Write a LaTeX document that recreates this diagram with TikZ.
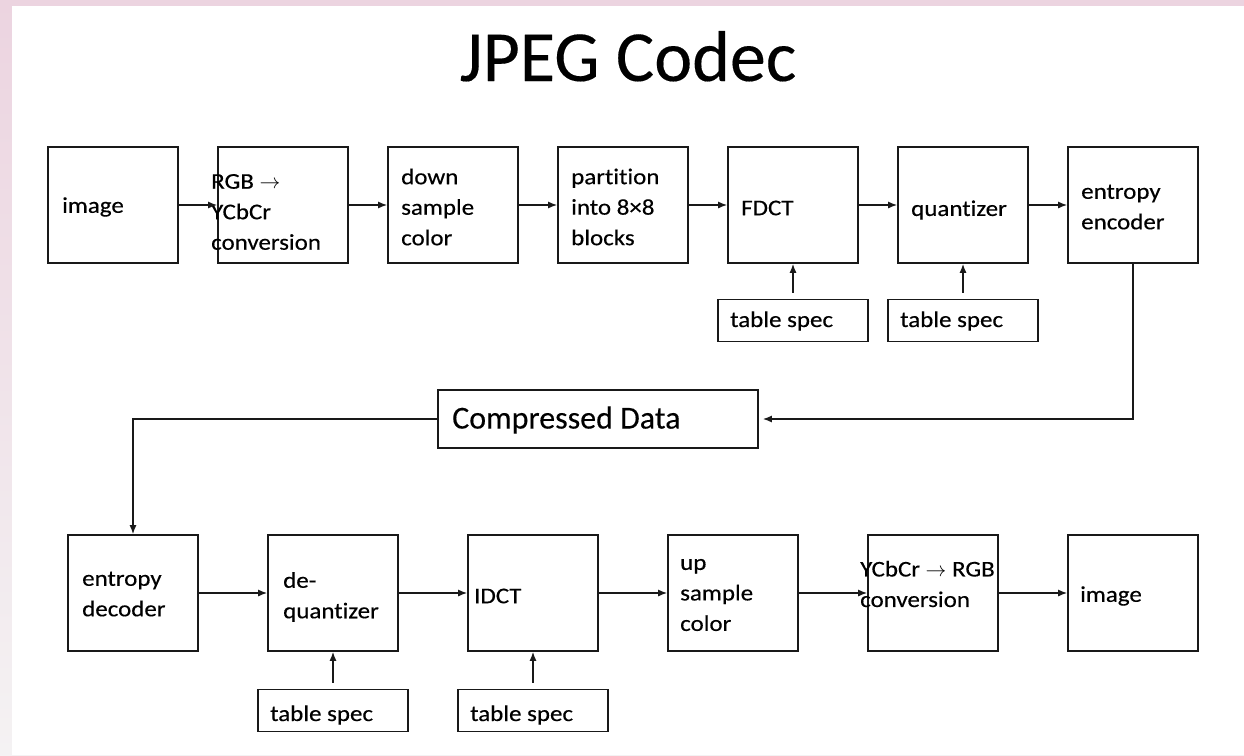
\documentclass[tikz,border=0pt]{standalone}
\usepackage{fontspec}
\setmainfont[Ligatures=NoCommon,FakeBold=0.35,FakeStretch=1.11]{Carlito}
\newfontfamily\titlefont[Ligatures=NoCommon,FakeBold=0.2]{Carlito}
\usetikzlibrary{arrows.meta,calc}
\definecolor{bgpink}{RGB}{236,212,224}
\definecolor{bggrey}{RGB}{244,242,243}
\definecolor{edge}{RGB}{25,25,25}
\begin{document}
\begin{tikzpicture}[x=1pt,y=-1pt,
  blk/.style={draw=edge,line width=1.6pt,minimum width=130pt,minimum height=116pt,inner sep=0pt},
  spec/.style={draw=edge,line width=1.6pt,minimum width=150pt,minimum height=42pt,inner sep=0pt},
  txt/.style={font=\fontsize{22.5}{30.5}\selectfont,align=left,anchor=west,inner sep=0pt},
  arr/.style={draw=edge,line width=1.5pt,-{Latex[length=9pt,width=7pt]}},
  ln/.style={draw=edge,line width=1.5pt}]
% background
\shade[top color=bgpink,bottom color=bggrey] (0,0) rectangle (1244,755);
\fill[white] (12,6) rectangle (1244,755);
\useasboundingbox (0,0) rectangle (1244,755);
% title
\node[font=\titlefont\fontsize{72}{80}\selectfont,anchor=base,inner sep=0pt] (title) at (628,81) {JPEG Codec};
% top row boxes
\node[blk] (a1) at (113,205) {};
\node[blk] (a2) at (283,205) {};
\node[blk] (a3) at (453,205) {};
\node[blk] (a4) at (623,205) {};
\node[blk] (a5) at (793,205) {};
\node[blk] (a6) at (963,205) {};
\node[blk] (a7) at (1133,205) {};
\node[txt] (ta1) at (62,207) {image};
\node[txt] (ta2) at (211,212) {RGB $\rightarrow$\\YCbCr\\conversion};
\node[txt] (ta3) at (401,207) {down\\sample\\color};
\node[txt] (ta4) at (571,207) {partition\\into 8×8\\blocks};
\node[txt] (ta5) at (741,208) {FDCT};
\node[txt] (ta6) at (911,210) {quantizer};
\node[txt] (ta7) at (1081,207) {entropy\\encoder};
% top spec boxes
\node[spec] (s1) at (793,320.5) {};
\node[spec] (s2) at (963,320.5) {};
\node[txt] (ts1) at (730,321) {table spec};
\node[txt] (ts2) at (900,321) {table spec};
% top arrows
\draw[arr] (a1.east) -- (a2.west);
\draw[arr] (a2.east) -- (a3.west);
\draw[arr] (a3.east) -- (a4.west);
\draw[arr] (a4.east) -- (a5.west);
\draw[arr] (a5.east) -- (a6.west);
\draw[arr] (a6.east) -- (a7.west);
\draw[arr] ($(s1.north)+(0,-6)$) -- (a5.south);
\draw[arr] ($(s2.north)+(0,-6)$) -- (a6.south);
% compressed data
\node[draw=edge,line width=1.6pt,minimum width=320pt,minimum height=58pt,inner sep=0pt] (cd) at (598,419) {};
\node[font=\titlefont\fontsize{32}{38}\selectfont,anchor=west,inner sep=0pt] (tcd) at (452,420) {Compressed Data};
\coordinate (c1) at (1133,419);
\coordinate (c2) at (133,419);
\draw[arr] (a7.south) -- (c1) -- ($(cd.east)+(4,0)$);
% bottom row boxes
\node[blk] (b1) at (133,593) {};
\node[blk] (b2) at (333,593) {};
\node[blk] (b3) at (533,593) {};
\node[blk] (b4) at (733,593) {};
\node[blk] (b5) at (933,593) {};
\node[blk] (b6) at (1133,593) {};
\draw[arr] (cd.west) -- (c2) -- (b1.north);
\node[txt] (tb1) at (82,594) {entropy\\decoder};
\node[txt] (tb2) at (283,597) {de-\\quantizer};
\node[txt] (tb3) at (474,596) {IDCT};
\node[txt] (tb4) at (680,595) {up\\sample\\color};
\node[txt] (tb5) at (860,584) {YCbCr $\rightarrow$ RGB\\conversion};
\node[txt] (tb6) at (1080,596) {image};
% bottom spec boxes
\node[spec] (s3) at (333,710.5) {};
\node[spec] (s4) at (533,710.5) {};
\node[txt] (ts3) at (270,715) {table spec};
\node[txt] (ts4) at (470,715) {table spec};
% bottom arrows
\draw[arr] (b1.east) -- (b2.west);
\draw[arr] (b2.east) -- (b3.west);
\draw[arr] (b3.east) -- (b4.west);
\draw[arr] (b4.east) -- (b5.west);
\draw[arr] (b5.east) -- (b6.west);
\draw[arr] ($(s3.north)+(0,-6)$) -- (b2.south);
\draw[arr] ($(s4.north)+(0,-6)$) -- (b3.south);
\end{tikzpicture}
\end{document}
